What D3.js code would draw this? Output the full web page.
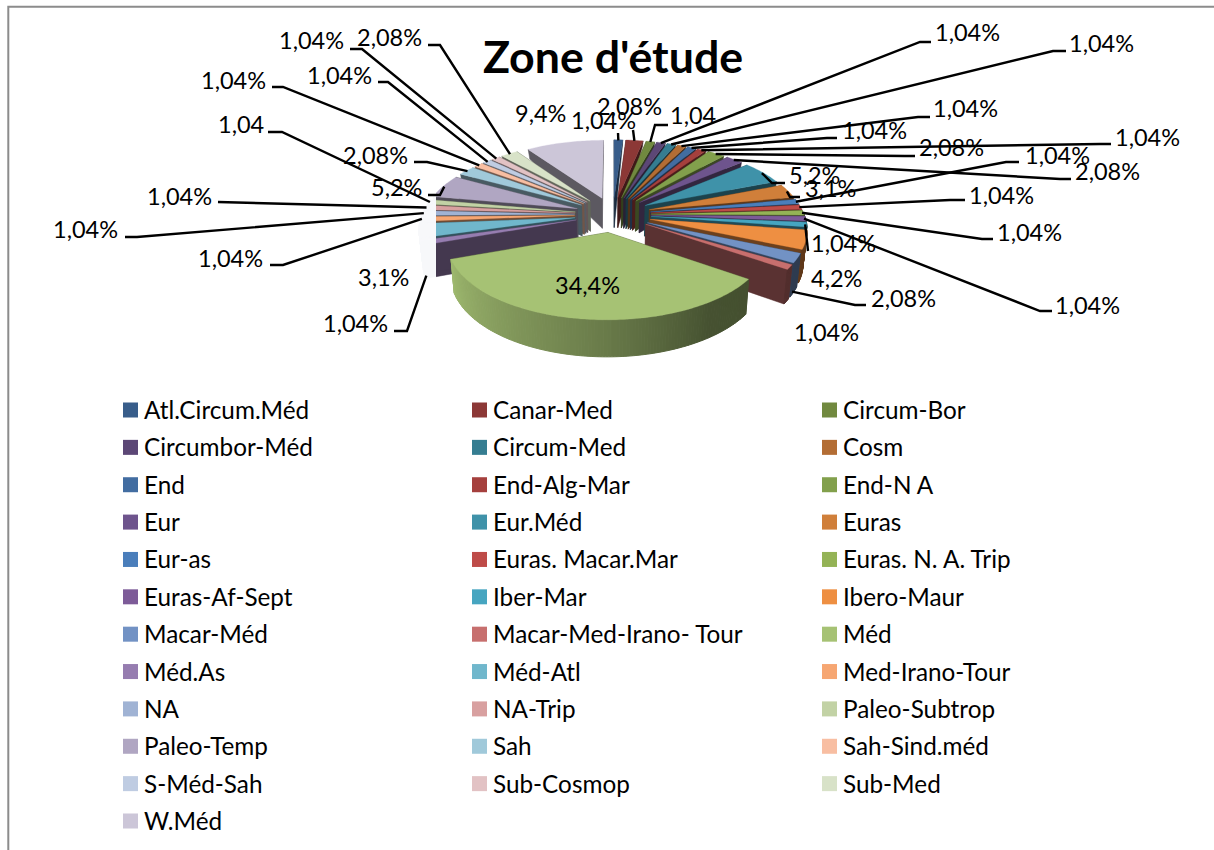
<!DOCTYPE html>
<html><head><meta charset="utf-8">
<script src="https://cdn.jsdelivr.net/npm/d3@7/dist/d3.min.js"></script>
<style>html,body{margin:0;padding:0;background:#fff;overflow:hidden}text{font-family:Lato,"Open Sans",sans-serif;fill:#000}</style>
</head><body><svg id="c" width="1214" height="850"></svg>
<script>
const categories=["Atl.Circum.Méd","Canar-Med","Circum-Bor","Circumbor-Méd","Circum-Med","Cosm","End","End-Alg-Mar","End-N A","Eur","Eur.Méd","Euras","Eur-as","Euras. Macar.Mar","Euras. N. A. Trip","Euras-Af-Sept","Iber-Mar","Ibero-Maur","Macar-Méd","Macar-Med-Irano- Tour","Méd","Méd.As","Méd-Atl","Med-Irano-Tour","NA","NA-Trip","Paleo-Subtrop","Paleo-Temp","Sah","Sah-Sind.méd","S-Méd-Sah","Sub-Cosmop","Sub-Med","W.Méd"];
const values=[1.04,2.08,1.04,1.04,1.04,1.04,1.04,1.04,2.08,2.08,5.2,3.1,1.04,1.04,1.04,1.04,1.04,4.2,2.08,1.04,34.4,1.04,3.1,1.04,1.04,1.04,1.04,5.2,2.08,1.04,1.04,1.04,2.08,9.4];
const valueLabels=["1,04%","2,08%","1,04","1,04%","1,04%","1,04%","1,04%","1,04%","2,08%","2,08%","5,2%","3,1%","1,04%","1,04%","1,04%","1,04%","1,04%","4,2%","2,08%","1,04%","34,4%","1,04%","3,1%","1,04%","1,04%","1,04%","1,04","5,2%","2,08%","1,04%","1,04%","1,04%","2,08%","9,4%"];
const colors=["#385d8a","#8c3836","#71893f","#5c4776","#357d91","#b36d34","#426da1","#a5403d","#82a04c","#6e548d","#3f92a9","#d07f3a","#4a7ebb","#be4b48","#94b356","#7d5b98","#46a5c0","#ee8f42","#7292c4","#c76f6e","#a6c274","#967db0","#70b7cc","#f6a672","#a0b3d4","#d8a0a0","#c2d2a5","#b0a6c2","#a0c9da","#f8bea2","#bfcce2","#e2c2c4","#d8e2c8","#ccc6d8"];

// label placement: [text x, text centre y, leader points from the slice outwards, leader starts at slice base]
const labelLayout=[
[571,120,[[618,133]]],[597,106,[[633,130]]],[670,115,[[655,125],[668,125]]],[935,32,[[920,42],[931,42]]],[1069,43,[[1053,51],[1066,51]]],[933,108,[[918,117],[930,117]]],[842,130,[[827,138],[837,138]]],[1115,137,[[1100,144],[1111,144]]],[919,147,[[905,156],[915,156]]],[1075,171,[[1060,179],[1071,179]]],
[789,175,[[772,183],[785,183]]],[805,188,[[790,197],[800,197]]],[1025,155,[[1006,162],[1019,162]]],[969,195,[[950,200],[965,200]]],[997,232,[[982,239],[993,239]]],[1055,305,[[1040,311],[1052,311]]],[811,243,[[808,251]]],[811,278,null],[871,298,[[855,305],[866,305]],true],[794,332,null],
[555,285,null],[323,323,[[407,331],[394,331]],true],[358,277,null],[198,258,[[283,265],[270,265]]],[53,229,[[137,237],[125,237]]],[147,196,[[218,202]]],[218,124,[[282,132],[268,132]]],[371,187,[[440,195],[428,195]]],[343,155,[[427,162],[414,162]]],[201,80,[[283,87],[272,87]]],[307,75,[[388,82],[378,82]]],[279,40,[[362,49],[350,49]]],[357,37,[[440,45],[428,45]]],[515,113,null]];

const svg=d3.select("#c");
const W=1214,H=850;
// frame
svg.append("path").attr("d","M8.3,850V6.7H1214").attr("fill","none").attr("stroke","#8c8c8c").attr("stroke-width",2);

// exploded tilted pie with perspective
const cx=613,cy=214.5,A=153,B=70,k=0.137,explode=0.25,washX=436,washColor="#f7f8fa";
svg.append("clipPath").attr("id","keep").append("rect").attr("x",washX).attr("y",0).attr("width",W-washX).attr("height",H);
const depthH=d3.scaleLinear().domain([-1.25,-0.25,1.25]).range([5,30,37]);
function proj(x,y,bottom){
  const s=1/(1-k*y);
  let sx=cx+A*x*s, sy=cy+B*y*s;
  if(bottom){sy+=depthH(y);sx=cx+(sx-cx)*0.98;}
  return [sx,sy];
}
const pie=d3.pie().sort(null).value(d=>d)(values);
const line=d3.line();
const slices=pie.map((p,i)=>{
  const m=(p.startAngle+p.endAngle)/2;
  const ox=explode*Math.sin(m),oy=-explode*Math.cos(m);
  const pt=(t,r)=>[ox+r*Math.sin(t),oy-r*Math.cos(t)];
  return {i,p,m,ox,oy,pt,midY:oy-Math.cos(m)};
});
const shade=d3.scaleLinear().domain([90,145,180,250,258,270]).range([0.4,0.42,0.63,0.95,1.85,1.95]).clamp(true);
function sideColor(base,deg){
  const v=shade(deg);
  return v<=1?d3.interpolateRgb("#000",base)(v):d3.interpolateRgb(base,"#fff")(v-1);
}
const order=slices.slice().sort((a,b)=>a.midY-b.midY);
function drawSlices(g,list,wash){
  list.forEach(s=>{
    const c=wash?washColor:colors[s.i],dark=wash?washColor:d3.interpolateRgb("#000",c)(0.45);
    const a0=s.p.startAngle,a1=s.p.endAngle;
    const apex=[s.ox,s.oy];
    [a0,a1].forEach(t=>{
      const q=s.pt(t,1);
      g.append("path").attr("d",line([proj(...apex),proj(...q),proj(...q,true),proj(...apex,true)])+"Z").attr("fill",dark).attr("stroke",dark).attr("stroke-width",0.5);
    });
    const step=Math.PI/180,tt=d3.range(a0,a1,step).concat([a1]);
    for(let j=0;j<tt.length-1;j++){
      const t0=tt[j],t1=tt[j+1],d=(t0+t1)/2*180/Math.PI;
      if(d<90||d>270) continue;
      const q0=s.pt(t0,1),q1=s.pt(t1,1),col=wash?washColor:sideColor(c,d);
      g.append("path").attr("d",line([proj(...q0),proj(...q1),proj(...q1,true),proj(...q0,true)])+"Z").attr("fill",col).attr("stroke",col).attr("stroke-width",1);
    }
    const topPts=[proj(...apex)].concat(d3.range(a0,a1,step).concat([a1]).map(t=>proj(...s.pt(t,1))));
    g.append("path").attr("d",line(topPts)+"Z").attr("fill",c).attr("stroke",c).attr("stroke-width",0.3);
  });
}
const leftGroup=order.filter(s=>s.i>=21&&s.i<=27);
drawSlices(svg.append("g"),leftGroup,true);
drawSlices(svg.append("g").attr("clip-path","url(#keep)"),order,false);

// leaders
const lg=svg.append("g").attr("fill","none").attr("stroke","#000").attr("stroke-width",2.4);
slices.forEach(s=>{
  const L=labelLayout[s.i];
  if(!L[2]) return;
  const start=proj(...s.pt(s.m,0.99),!!L[3]);
  lg.append("path").attr("d",line([start].concat(L[2])));
});
// data labels
valueLabels.forEach((t,i)=>{
  svg.append("text").attr("x",labelLayout[i][0]).attr("y",labelLayout[i][1]).attr("dominant-baseline","central").attr("font-size",23.5).text(t);
});
// title
svg.append("text").attr("x",483).attr("y",56).attr("dominant-baseline","central").attr("font-size",44.7).attr("font-weight",700).text("Zone d'étude");
// legend
const colX=[123,472,822],rowY=d3.scaleLinear().domain([0,11]).range([409.5,820.5]);
categories.forEach((c,i)=>{
  const x=colX[i%3],y=rowY(Math.floor(i/3));
  svg.append("rect").attr("x",x).attr("y",y-7).attr("width",15).attr("height",15).attr("fill",colors[i]);
  svg.append("text").attr("x",x+21).attr("y",y).attr("dominant-baseline","central").attr("font-size",24.3).text(c);
});
</script></body></html>
